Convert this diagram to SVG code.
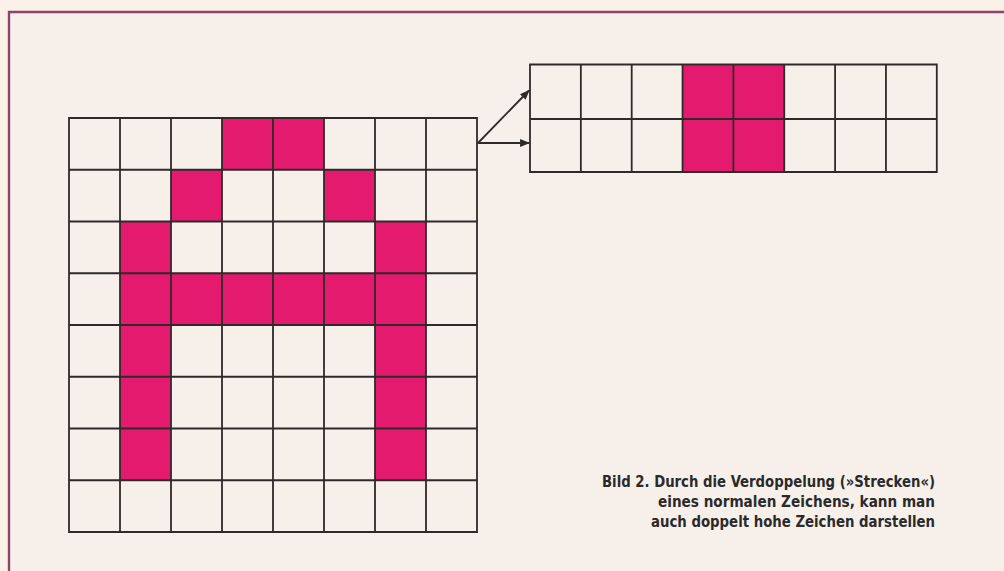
<svg xmlns="http://www.w3.org/2000/svg" width="1004" height="571" viewBox="0 0 1004 571">
<style>
.grid{fill:none;stroke:#2e2a2a;stroke-width:1.8}
.pix{fill:#e41a6e}
.frame{fill:none;stroke:#8a4668;stroke-width:2.4}
.conn{stroke:#2e2a2a;stroke-width:1.8;fill:none}
.cap{font-family:"Liberation Sans Narrow","DejaVu Sans Condensed","Liberation Sans",sans-serif;font-weight:bold;font-size:16px;fill:#2b2a2a}
</style>
<defs>
<marker id="ah" viewBox="0 0 10 10" refX="9" refY="5" markerWidth="5.5" markerHeight="5.5" orient="auto" markerUnits="strokeWidth">
<path d="M0,1 L10,5 L0,9 z" fill="#2e2a2a"/>
</marker>
</defs>
<rect x="0" y="0" width="1004" height="571" fill="#fbf1e9"/>
<rect x="9" y="12" width="995" height="559" fill="#f7f0ea"/>
<path class="frame" d="M9,571 L9,12 L1004,12"/>

<g id="grid-normal">
<rect class="pix" x="222" y="118" width="102" height="51.75"/>
<rect class="pix" x="171" y="169.75" width="51" height="51.75"/>
<rect class="pix" x="324" y="169.75" width="51" height="51.75"/>
<rect class="pix" x="120" y="221.5" width="51" height="258.75"/>
<rect class="pix" x="375" y="221.5" width="51" height="258.75"/>
<rect class="pix" x="120" y="273.25" width="306" height="51.75"/>
<path class="grid" d="M69,118 H477 V532 H69 Z M120,118 V532 M171,118 V532 M222,118 V532 M273,118 V532 M324,118 V532 M375,118 V532 M426,118 V532 M69,169.75 H477 M69,221.5 H477 M69,273.25 H477 M69,325 H477 M69,376.75 H477 M69,428.5 H477 M69,480.25 H477"/>
</g>

<g id="grid-doubled">
<rect class="pix" x="682.5" y="64.5" width="101.7" height="107.5"/>
<path class="grid" d="M530,64.5 H936.8 V172 H530 Z M580.85,64.5 V172 M631.7,64.5 V172 M682.55,64.5 V172 M733.4,64.5 V172 M784.25,64.5 V172 M835.1,64.5 V172 M885.95,64.5 V172 M530,119 H936.8"/>
</g>

<g id="connectors">
<line class="conn" x1="478" y1="143" x2="529" y2="90.5" marker-end="url(#ah)"/>
<line class="conn" x1="478" y1="143" x2="529" y2="143" marker-end="url(#ah)"/>
</g>

<g id="caption">
<text class="cap" x="935" y="487" text-anchor="end" textLength="333" lengthAdjust="spacingAndGlyphs">Bild 2. Durch die Verdoppelung (»Strecken«)</text>
<text class="cap" x="935" y="507" text-anchor="end" textLength="277" lengthAdjust="spacingAndGlyphs">eines normalen Zeichens, kann man</text>
<text class="cap" x="935" y="527" text-anchor="end" textLength="284" lengthAdjust="spacingAndGlyphs">auch doppelt hohe Zeichen darstellen</text>
</g>
</svg>
